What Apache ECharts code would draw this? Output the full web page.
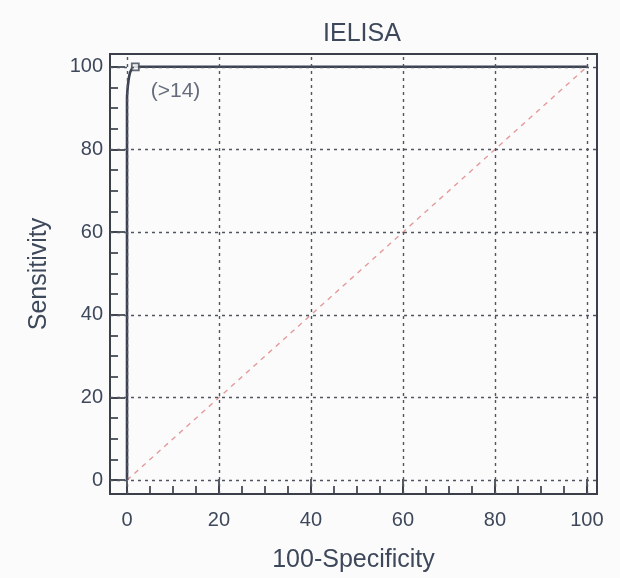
<!DOCTYPE html>
<html><head><meta charset="utf-8">
<script src="https://cdn.jsdelivr.net/npm/echarts@6/dist/echarts.min.js"></script>
<style>html,body{margin:0;padding:0;background:#fbfbfb}#c{width:620px;height:578px}</style>
</head><body><div id="c"></div>
<script>
const titleText = 'IELISA';
const xName = '100-Specificity';
const yName = 'Sensitivity';
const majorTicks = [0, 20, 40, 60, 80, 100];
const minorTicks = [0,5,10,15,20,25,30,35,40,45,50,55,60,65,70,75,80,85,90,95,100];
const rocX = [0, 0, 0.3, 0.8, 1.8, 100];
const rocY = [0, 92, 96.5, 99, 100, 100];
const diagX = [0, 100];
const diagY = [0, 100];
const criterionPoint = [1.8, 100];
const criterionLabel = '(>14)';

const txt = '#3e485b';
const font = 'Liberation Sans, Arial, sans-serif';
const chart = echarts.init(document.getElementById('c'));
const xMin = -3.7, xMax = 102.2, yMin = -3.35, yMax = 103.1;

function mkAxis(isX, minor) {
  return {
    type: 'value', min: isX ? xMin : yMin, max: isX ? xMax : yMax,
    position: isX ? 'bottom' : 'left',
    axisLine: {show: false, onZero: false},
    splitLine: {show: false},
    axisTick: {show: true, inside: true, length: minor ? 8 : 15, customValues: minor ? minorTicks : majorTicks,
      lineStyle: {color: '#3a3f4a', width: 1.7}},
    axisLabel: {show: !minor, customValues: majorTicks, margin: isX ? 16 : 7,
      color: txt, fontSize: 20, fontFamily: font},
    name: minor ? '' : (isX ? xName : yName),
    nameLocation: 'middle',
    nameGap: isX ? 54 : 58,
    nameTextStyle: {color: txt, fontSize: 25, fontFamily: font}
  };
}

chart.setOption({
  backgroundColor: '#fbfbfb',
  animation: false,
  title: {text: titleText, left: 357, top: 17, textAlign: 'center',
    textStyle: {color: txt, fontSize: 25, fontWeight: 'normal', fontFamily: font}},
  grid: {left: 110, right: 23, top: 54, bottom: 79, show: true, borderColor: '#3a3f4a', borderWidth: 2, backgroundColor: 'transparent'},
  xAxis: [mkAxis(true, false), mkAxis(true, true)],
  yAxis: [mkAxis(false, false), mkAxis(false, true)],
  series: [
    {
      type: 'line', data: diagX.map((x, i) => [x, diagY[i]]), symbol: 'none', silent: true,
      lineStyle: {color: '#e49a9a', width: 1.4, type: [5, 5]},
      markLine: {
        silent: true, symbol: 'none', label: {show: false},
        lineStyle: {color: '#505560', width: 1.4, type: [3, 4]},
        data: majorTicks.map(v => ({xAxis: v})).concat(majorTicks.map(v => ({yAxis: v})))
      },
      z: 1
    },
    {
      type: 'line', data: rocX.map((x, i) => [x, rocY[i]]), symbol: 'none', smooth: 0.3,
      lineStyle: {color: '#3c4252', width: 2.6}, z: 3
    },
    {
      type: 'scatter', data: [criterionPoint], symbol: 'rect', symbolSize: 7,
      itemStyle: {color: '#fbfbfb', borderColor: '#3c4252', borderWidth: 1.8},
      label: {show: true, formatter: criterionLabel, position: 'right', offset: [6, 24],
        color: txt, fontSize: 21, fontFamily: font}, z: 4
    }
  ]
});
</script></body></html>
